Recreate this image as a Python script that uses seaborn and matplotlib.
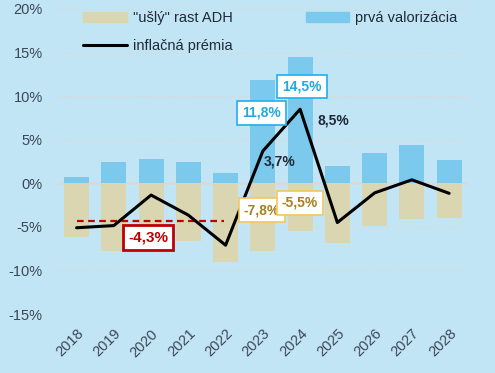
import numpy as np
import pandas as pd
import matplotlib
matplotlib.use('Agg')
import matplotlib.pyplot as plt
import seaborn as sns
from matplotlib.patches import Patch
from matplotlib.lines import Line2D

years = ['2018', '2019', '2020', '2021', '2022', '2023', '2024', '2025', '2026', '2027', '2028']
lost_growth = [-6.2, -7.8, -6.0, -6.6, -9.0, -7.8, -5.5, -6.85, -4.9, -4.1, -4.0]
first_valorization = [0.7, 2.4, 2.8, 2.4, 1.2, 11.8, 14.5, 2.0, 3.5, 4.4, 2.7]
inflation_premium = [-5.1, -4.85, -1.35, -3.65, -7.1, 3.7, 8.5, -4.5, -1.1, 0.4, -1.15]
avg_premium = -4.3
avg_span = ['2018', '2022']

bg = '#C2E5F5'
blue = '#7BC9EC'
tan = '#DAD6B1'
txt = '#3B4756'

sns.set_style('white')
plt.rcParams['font.family'] = ['Liberation Sans', 'DejaVu Sans']

df = pd.DataFrame({'year': years, 'lost': lost_growth, 'valor': first_valorization,
                   'premium': inflation_premium})

fig = plt.figure(figsize=(4.95, 3.73), dpi=100, facecolor=bg)
ax = fig.add_axes([0.117, 0.158, 0.828, 0.818])
ax.set_facecolor(bg)

for v in [-15, -10, -5, 5, 10, 15, 20]:
    ax.axhline(v, color='#D9D9D9', lw=0.8, ls=(0, (4, 3)), zorder=0)
ax.axhline(0, color='#D9D9D9', lw=2, zorder=0.5)

sns.barplot(data=df, x='year', y='valor', color=blue, width=0.67, saturation=1,
            linewidth=0, ax=ax, zorder=1)
sns.barplot(data=df, x='year', y='lost', color=tan, width=0.67, saturation=1,
            linewidth=0, ax=ax, zorder=1)

xs = np.arange(len(years))
sns.lineplot(x=xs, y=df['premium'], color='black', lw=2.2, ax=ax, zorder=3)

i0, i1 = years.index(avg_span[0]), years.index(avg_span[1])
ax.plot([i0, i1 - 0.05], [avg_premium, avg_premium], color='#C00000', lw=1.6,
        ls=(0, (3, 2)), zorder=2.5)

def box(x, y, s, col, ec, lw=1.2, fs=10):
    ax.text(x, y, s, color=col, fontsize=fs, fontweight='bold', ha='center', va='center',
            zorder=5, bbox=dict(boxstyle='square,pad=0.35', fc='white', ec=ec, lw=lw))

box(4.97, 8.1, '11,8%', '#22A7DF', '#1EB0EE')
box(6.05, 11.1, '14,5%', '#22A7DF', '#1EB0EE')
ax.text(6.88, 7.2, '8,5%', color='#1F2A38', fontsize=10, fontweight='bold', ha='center', va='center', zorder=5)
ax.text(5.46, 2.45, '3,7%', color='#1F2A38', fontsize=10, fontweight='bold', ha='center', va='center', zorder=5)
box(4.97, -3.1, '-7,8%', '#A8801E', '#F2C75C')
box(6.0, -2.25, '-5,5%', '#A8801E', '#F2C75C')
box(1.92, -6.2, '-4,3%', '#C00000', '#C00000', lw=2, fs=11)

ax.set_ylim(-15, 20)
ax.set_xlim(-0.5, len(years) - 0.5)
ax.set_yticks([-15, -10, -5, 0, 5, 10, 15, 20])
ax.set_yticklabels([f'{v}%' for v in [-15, -10, -5, 0, 5, 10, 15, 20]])
ax.set_xlabel('')
ax.set_ylabel('')
ax.tick_params(axis='both', colors=txt, labelsize=10.5, length=0)
ax.tick_params(axis='y', pad=11)
ax.tick_params(axis='x', pad=9)
plt.setp(ax.get_xticklabels(), rotation=45, ha='right', rotation_mode='anchor')
sns.despine(ax=ax, left=True, bottom=True)

handles = [Patch(color=tan), Line2D([], [], color='black', lw=2.2), Patch(color=blue)]
labels = ['"ušlý" rast ADH', 'inflačná prémia', 'prvá valorizácia']
leg = ax.legend(handles, labels, ncol=2, frameon=False, loc='upper left',
                bbox_to_anchor=(0.03, 1.035), fontsize=10.5, handlelength=3,
                labelspacing=0.95, columnspacing=5.0, handletextpad=0.4)
for t in leg.get_texts():
    t.set_color('#1F2A38')

fig.savefig('out.png', dpi=100, facecolor=bg)
